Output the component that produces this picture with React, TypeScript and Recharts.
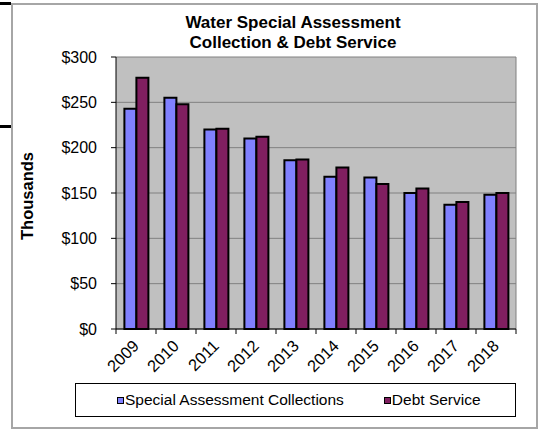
import React from "react";
import {
  BarChart,
  Bar,
  XAxis,
  YAxis,
  CartesianGrid,
  Legend,
} from "recharts";

// values in thousands of dollars
const years = ["2009", "2010", "2011", "2012", "2013", "2014", "2015", "2016", "2017", "2018"];
const collections = [243, 255, 220, 210, 186, 168, 167, 150, 137, 148];
const debtService = [277, 248, 221, 212, 187, 178, 160, 155, 140, 150];
const yTicks = [0, 50, 100, 150, 200, 250, 300];

const seriesNames = {
  collections: "Special Assessment Collections",
  debt: "Debt Service",
};

const FONT = "'Liberation Sans', Arial, sans-serif";
const BLUE = "#8080FF";
const PLUM = "#801F60";

const data = years.map((year, i) => ({
  year,
  collections: collections[i],
  debt: debtService[i],
}));

// rotated year label plus Excel-style tick marks on the category boundaries
const YearTick = (props: any) => {
  const { x, y, payload, index } = props;
  const half = payload?.offset || 20;
  const tx = x + 4;
  const ty = y + 18;
  return (
    <g>
      {index === 0 && (
        <line x1={x - half} y1={y} x2={x - half} y2={y + 5} stroke="#000" strokeWidth={1} />
      )}
      <line x1={x + half} y1={y} x2={x + half} y2={y + 5} stroke="#000" strokeWidth={1} />
      <text
        x={tx}
        y={ty}
        textAnchor="end"
        fontSize={16.5}
        fontFamily={FONT}
        fill="#000"
        transform={`rotate(-45, ${tx}, ${ty})`}
      >
        {payload.value}
      </text>
    </g>
  );
};

// dollar label, kept well clear of the axis like the original
const DollarTick = (props: any) => {
  const { x, y, payload } = props;
  return (
    <text x={x - 14} y={y} dy={5.5} textAnchor="end" fontSize={16} fontFamily={FONT} fill="#000">
      {`$${payload.value}`}
    </text>
  );
};

const LegendBox = () => (
  <div
    style={{
      boxSizing: "border-box",
      height: 34,
      border: "1.5px solid #000",
      background: "#fff",
      display: "flex",
      alignItems: "center",
      paddingLeft: 41,
      fontFamily: FONT,
      fontSize: 15.5,
      color: "#000",
    }}
  >
    <span style={{ display: "inline-flex", alignItems: "center", marginRight: 40 }}>
      <span style={{ width: 5, height: 5, border: "1.5px solid #000", background: BLUE, marginRight: 1 }} />
      {seriesNames.collections}
    </span>
    <span style={{ display: "inline-flex", alignItems: "center" }}>
      <span style={{ width: 5, height: 5, border: "1.5px solid #000", background: PLUM, marginRight: 1 }} />
      {seriesNames.debt}
    </span>
  </div>
);

export default function App() {
  return (
    <div style={{ position: "absolute", left: 0, top: 0, width: 539, height: 431, background: "#fff" }}>
      {/* outer chart frame */}
      <div
        style={{
          position: "absolute",
          left: 11,
          top: 3,
          width: 527,
          height: 426,
          boxSizing: "border-box",
          border: "2px solid #A6A6A6",
        }}
      />
      {/* stray page rules on the left edge */}
      <div style={{ position: "absolute", left: 0, top: 2, width: 11, height: 2.5, background: "#000" }} />
      <div style={{ position: "absolute", left: 0, top: 125, width: 11, height: 2.5, background: "#000" }} />

      <div style={{ position: "absolute", left: 0, top: 0 }}>
        <BarChart
          width={539}
          height={431}
          data={data}
          margin={{ top: 57, right: 23, left: 0, bottom: 14 }}
          barCategoryGap="21%"
          barGap={0}
        >
          <CartesianGrid
            fill="#C0C0C0"
            stroke="#808080"
            strokeWidth={1}
            vertical={true}
            verticalCoordinatesGenerator={({ offset }: any) => [offset.left + offset.width]}
          />
          <XAxis
            dataKey="year"
            height={54}
            interval={0}
            tickSize={0}
            tickMargin={0}
            tickLine={false}
            axisLine={{ stroke: "#000", strokeWidth: 1 }}
            tick={<YearTick />}
          />
          <YAxis
            width={116}
            domain={[0, 300]}
            ticks={yTicks}
            tickSize={5}
            tickMargin={0}
            tickLine={{ stroke: "#000" }}
            axisLine={{ stroke: "#000", strokeWidth: 1 }}
            tick={<DollarTick />}
          />
          <Legend
            verticalAlign="bottom"
            content={<LegendBox />}
            wrapperStyle={{ left: 75, width: 441, bottom: 14 }}
          />
          <Bar
            dataKey="collections"
            name={seriesNames.collections}
            fill={BLUE}
            stroke="#000"
            strokeWidth={2}
            isAnimationActive={false}
          />
          <Bar
            dataKey="debt"
            name={seriesNames.debt}
            fill={PLUM}
            stroke="#000"
            strokeWidth={2}
            isAnimationActive={false}
          />
          <text x={293} y={27.5} textAnchor="middle" fontSize={17} fontWeight="bold" fontFamily={FONT} fill="#000">
            Water Special Assessment
          </text>
          <text x={293} y={47.5} textAnchor="middle" fontSize={17} fontWeight="bold" fontFamily={FONT} fill="#000">
            Collection &amp; Debt Service
          </text>
          <text
            x={33}
            y={196}
            textAnchor="middle"
            fontSize={16.5}
            fontWeight="bold"
            fontFamily={FONT}
            fill="#000"
            transform="rotate(-90, 33, 196)"
          >
            Thousands
          </text>
        </BarChart>
      </div>
    </div>
  );
}
